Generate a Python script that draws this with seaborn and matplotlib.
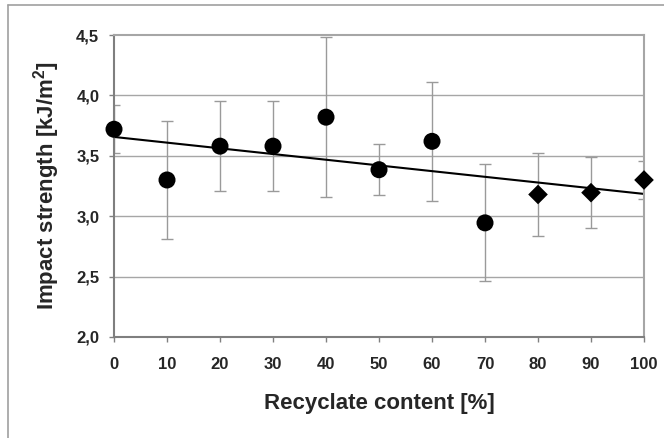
# Impact strength vs. recyclate content
import pandas as pd
import matplotlib.pyplot as plt
import seaborn as sns
from matplotlib.lines import Line2D

# Data
recyclate = [0, 10, 20, 30, 40, 50, 60, 70, 80, 90, 100]
strength = [3.72, 3.30, 3.58, 3.58, 3.82, 3.385, 3.62, 2.945, 3.18, 3.195, 3.30]
error = [0.20, 0.49, 0.37, 0.37, 0.66, 0.21, 0.49, 0.485, 0.345, 0.295, 0.16]
series = ['a'] * 8 + ['b'] * 3

y_ticks = [2.0, 2.5, 3.0, 3.5, 4.0, 4.5]
y_tick_labels = ['2,0', '2,5', '3,0', '3,5', '4,0', '4,5']
x_ticks = [0, 10, 20, 30, 40, 50, 60, 70, 80, 90, 100]

df = pd.DataFrame({'recyclate': recyclate, 'strength': strength,
                   'error': error, 'series': series})

sns.set_style('white')
plt.rcParams['font.family'] = ['Liberation Sans', 'DejaVu Sans']
plt.rcParams['mathtext.fontset'] = 'custom'
plt.rcParams['mathtext.rm'] = 'Liberation Sans:bold'
plt.rcParams['mathtext.bf'] = 'Liberation Sans:bold'

fig = plt.figure(figsize=(6.64, 4.38), dpi=100)
ax = fig.add_axes([0.1717, 0.2306, 0.7982, 0.6894])

# gridlines
for yv in y_ticks[1:-1]:
    ax.axhline(yv, color='#a6a6a6', lw=1.0, zorder=0)

# error bars
ax.errorbar(df['recyclate'], df['strength'], yerr=df['error'], fmt='none',
            ecolor='#9a9a9a', elinewidth=1.0, capsize=4.5, capthick=1.0, zorder=1)

# linear trend
sns.regplot(data=df, x='recyclate', y='strength', scatter=False, ci=None,
            line_kws={'color': 'black', 'lw': 1.5, 'zorder': 2}, ax=ax)

# points
sns.scatterplot(data=df, x='recyclate', y='strength', style='series',
                size='series', sizes={'a': 150, 'b': 100},
                markers={'a': 'o', 'b': 'D'}, color='black',
                edgecolor='black', linewidth=0, legend=False, zorder=3,
                clip_on=False, ax=ax)

ax.set_xlim(0, 100)
ax.set_ylim(2.0, 4.5)
ax.set_xticks(x_ticks)
ax.set_xticklabels([str(v) for v in x_ticks], fontsize=12, fontweight='bold')
ax.set_yticks(y_ticks)
ax.set_yticklabels(y_tick_labels, fontsize=12, fontweight='bold')
ax.tick_params(axis='both', direction='out', length=3.6, width=1.0,
               color='#808080', bottom=True, left=True)
ax.tick_params(axis='x', pad=11)
ax.tick_params(axis='y', pad=7)

for side in ['left', 'bottom']:
    ax.spines[side].set_color('#7f7f7f')
    ax.spines[side].set_linewidth(1.5)
for side in ['top', 'right']:
    ax.spines[side].set_color('#a6a6a6')
    ax.spines[side].set_linewidth(1.5)

ax.set_xlabel('Recyclate content [%]', fontsize=16, fontweight='bold', labelpad=15)
ax.set_ylabel('Impact strength [kJ/m$^{2}$]', fontsize=16, fontweight='bold', labelpad=10)

# outer frame (top and left edges)
fig.add_artist(Line2D([8 / 664, 8 / 664], [0, 1 - 5 / 438], color='#a0a0a0', lw=1.2))
fig.add_artist(Line2D([8 / 664, 1], [1 - 5 / 438, 1 - 5 / 438], color='#a0a0a0', lw=1.2))

fig.savefig('out.png', dpi=100)
